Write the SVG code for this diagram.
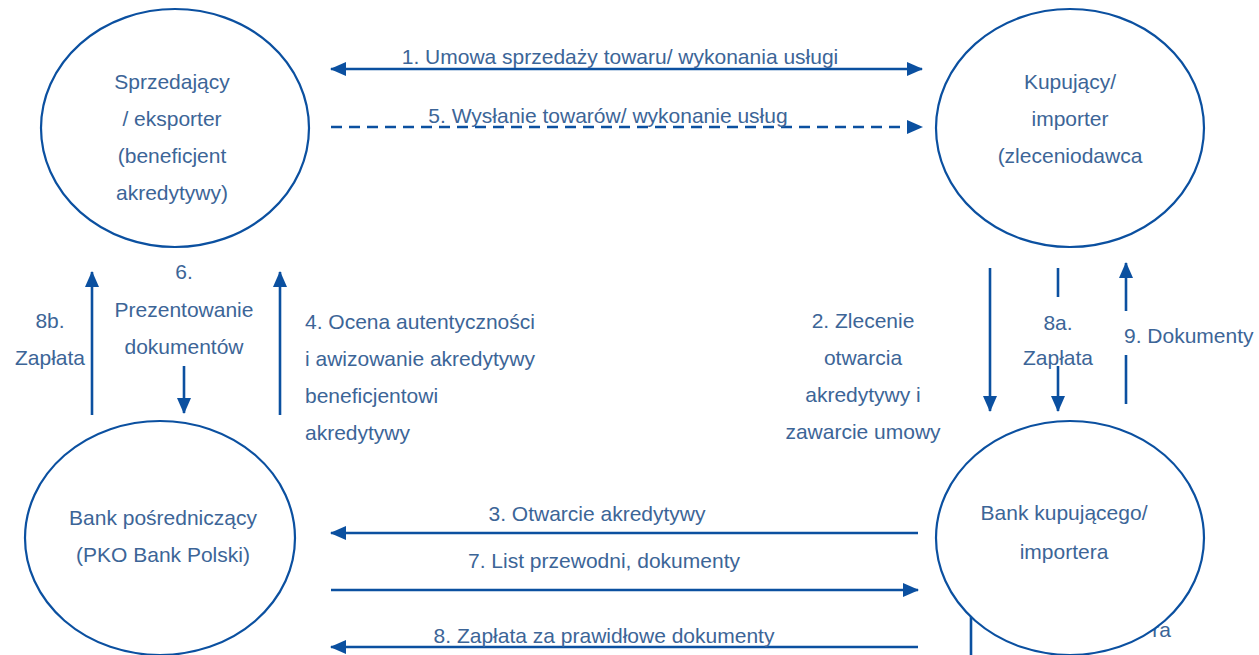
<svg xmlns="http://www.w3.org/2000/svg" width="1259" height="655" viewBox="0 0 1259 655">
<style>
text{font-family:"Liberation Sans",Arial,sans-serif;font-size:21px;fill:#3c6597}
.c{text-anchor:middle}
.node{fill:#fff;stroke:#0b50a0;stroke-width:2.2}
.ln{stroke:#0b50a0;stroke-width:2.6;fill:none}
.dash{stroke-dasharray:11 7}
</style>
<defs>
<marker id="ah" markerUnits="userSpaceOnUse" markerWidth="16" markerHeight="16" viewBox="0 0 16 16" refX="15" refY="8" orient="auto-start-reverse">
<path d="M0,1 L16,8 L0,15 Z" fill="#0b50a0"/>
</marker>
</defs>
<g id="connectors">
<line class="ln" x1="331" y1="69" x2="922" y2="69" marker-start="url(#ah)" marker-end="url(#ah)"/>
<line class="ln dash" x1="331" y1="127" x2="922" y2="127" marker-end="url(#ah)"/>
<line class="ln" x1="92" y1="415" x2="92" y2="272" marker-end="url(#ah)"/>
<line class="ln" x1="184" y1="366" x2="184" y2="413" marker-end="url(#ah)"/>
<line class="ln" x1="280" y1="415" x2="280" y2="272" marker-end="url(#ah)"/>
<line class="ln" x1="990" y1="268" x2="990" y2="411" marker-end="url(#ah)"/>
<line class="ln" x1="1058" y1="268" x2="1058" y2="297"/>
<line class="ln" x1="1058" y1="366" x2="1058" y2="411" marker-end="url(#ah)"/>
<line class="ln" x1="1126" y1="404" x2="1126" y2="355"/>
<line class="ln" x1="1126" y1="311" x2="1126" y2="263" marker-end="url(#ah)"/>
<line class="ln" x1="918" y1="533" x2="331" y2="533" marker-end="url(#ah)"/>
<line class="ln" x1="331" y1="590" x2="918" y2="590" marker-end="url(#ah)"/>
<line class="ln" x1="918" y1="647" x2="331" y2="647" marker-end="url(#ah)"/>
<line class="ln" x1="971" y1="600" x2="971" y2="655"/>
<text x="1171" y="637" style="text-anchor:end">ra</text>
</g>
<g id="labels">
<text class="c" x="620" y="64">1. Umowa sprzedaży towaru/ wykonania usługi</text>
<text class="c" x="608" y="123">5. Wysłanie towarów/ wykonanie usług</text>
<text class="c" x="50" y="328">8b.</text>
<text class="c" x="50" y="365">Zapłata</text>
<text class="c" x="184" y="279">6.</text>
<text class="c" x="184" y="317">Prezentowanie</text>
<text class="c" x="184" y="354">dokumentów</text>
<text x="305" y="329">4. Ocena autentyczności</text>
<text x="305" y="366">i awizowanie akredytywy</text>
<text x="305" y="403">beneficjentowi</text>
<text x="305" y="440">akredytywy</text>
<text class="c" x="863" y="328">2. Zlecenie</text>
<text class="c" x="863" y="365">otwarcia</text>
<text class="c" x="863" y="402">akredytywy i</text>
<text class="c" x="863" y="439">zawarcie umowy</text>
<text class="c" x="1058" y="330">8a.</text>
<text class="c" x="1058" y="365">Zapłata</text>
<text x="1124" y="343">9. Dokumenty</text>
<text class="c" x="597" y="521">3. Otwarcie akredytywy</text>
<text class="c" x="604" y="568">7. List przewodni, dokumenty</text>
<text class="c" x="604" y="643">8. Zapłata za prawidłowe dokumenty</text>
</g>
<g id="seller">
<ellipse class="node" cx="175" cy="128" rx="134" ry="119"/>
<text class="c" x="172" y="89">Sprzedający</text>
<text class="c" x="172" y="126">/ eksporter</text>
<text class="c" x="172" y="163">(beneficjent</text>
<text class="c" x="172" y="200">akredytywy)</text>
</g>
<g id="buyer">
<ellipse class="node" cx="1070" cy="128" rx="134" ry="119"/>
<text class="c" x="1070" y="89">Kupujący/</text>
<text class="c" x="1070" y="126">importer</text>
<text class="c" x="1070" y="163">(zleceniodawca</text>
</g>
<g id="intermediary-bank">
<ellipse class="node" cx="160" cy="538" rx="135" ry="117"/>
<text class="c" x="163" y="525">Bank pośredniczący</text>
<text class="c" x="163" y="562">(PKO Bank Polski)</text>
</g>
<g id="buyer-bank">
<ellipse class="node" cx="1070" cy="538" rx="134" ry="117"/>
<text class="c" x="1064" y="520">Bank kupującego/</text>
<text class="c" x="1064" y="559">importera</text>
</g>
</svg>
